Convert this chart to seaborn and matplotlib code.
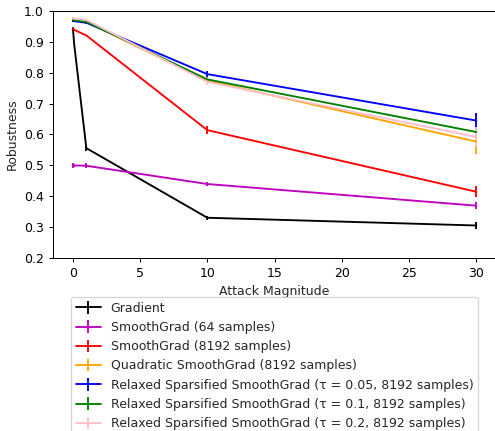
import matplotlib
matplotlib.use("Agg")
import matplotlib.pyplot as plt
import seaborn as sns
import numpy as np

# =========================
# DATA
# =========================
attack = [0, 0.1, 1, 10, 30]

labels = [
    "Gradient",
    "SmoothGrad (64 samples)",
    "SmoothGrad (8192 samples)",
    "Quadratic SmoothGrad (8192 samples)",
    "Relaxed Sparsified SmoothGrad (τ = 0.05, 8192 samples)",
    "Relaxed Sparsified SmoothGrad (τ = 0.1, 8192 samples)",
    "Relaxed Sparsified SmoothGrad (τ = 0.2, 8192 samples)",
]

gradient = [0.943, 0.89, 0.556, 0.331, 0.306]
sg_64 = [0.500, 0.500, 0.499, 0.440, 0.370]
sg_8192 = [0.943, 0.938, 0.920, 0.614, 0.415]
quad_sg = [0.970, 0.969, 0.964, 0.774, 0.577]
rss_005 = [0.967, 0.966, 0.961, 0.795, 0.645]
rss_01 = [0.970, 0.969, 0.964, 0.778, 0.608]
rss_02 = [0.975, 0.974, 0.970, 0.770, 0.592]

gradient_err = [0.003, 0.0, 0.009, 0.006, 0.012]
sg_64_err = [0.008, 0.005, 0.008, 0.006, 0.011]
sg_8192_err = [0.003, 0.0, 0.003, 0.013, 0.017]
quad_sg_err = [0.003, 0.0, 0.003, 0.011, 0.040]
rss_005_err = [0.003, 0.0, 0.003, 0.009, 0.025]
rss_01_err = [0.003, 0.0, 0.003, 0.006, 0.012]
rss_02_err = [0.003, 0.0, 0.003, 0.011, 0.032]

series = [gradient, sg_64, sg_8192, quad_sg, rss_005, rss_01, rss_02]
errors = [gradient_err, sg_64_err, sg_8192_err, quad_sg_err,
          rss_005_err, rss_01_err, rss_02_err]
colors = ["black", "m", "red", "orange", "blue", "green", "pink"]

# =========================
# PLOT
# =========================
sns.set_style("ticks")
plt.rcParams["font.family"] = ["DejaVu Sans"]
plt.rcParams["axes.edgecolor"] = "black"
plt.rcParams["xtick.color"] = "black"
plt.rcParams["ytick.color"] = "black"

DPI = 90
fig = plt.figure(figsize=(495 / DPI, 431 / DPI), dpi=DPI)
ax = fig.add_axes([0.1065, 0.4007, 0.8965, 0.5745])

palette = sns.color_palette(colors)

for name, vals, err, col in zip(labels, series, errors, palette):
    ax.errorbar(attack, vals, yerr=err, color=col, label=name,
                capsize=0, linewidth=1.5)

ax.set_xlim(-1.5, 31.5)
ax.set_ylim(0.2, 1.0)
ax.set_xticks([0, 5, 10, 15, 20, 25, 30])
ax.set_yticks(np.arange(0.2, 1.01, 0.1))
ax.set_xlabel("Attack Magnitude")
ax.set_ylabel("Robustness")

ax.legend(loc="upper center", bbox_to_anchor=(0.5, -0.155),
          borderaxespad=0, frameon=True)

fig.savefig("out.png", dpi=DPI)
